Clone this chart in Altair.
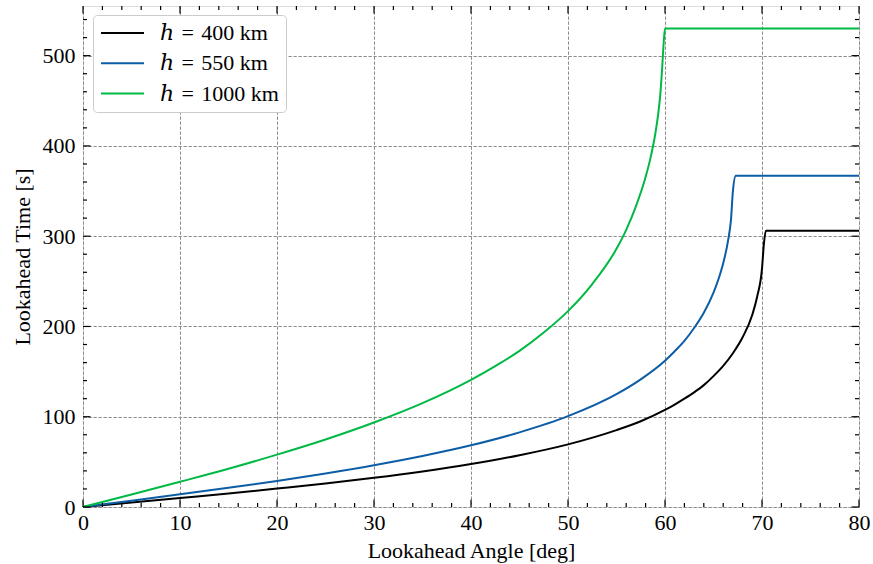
import altair as alt
import pandas as pd

# ---------------- data ----------------
series_labels = ["ℎ\u2004=\u2004400 km", "ℎ\u2004=\u2004550 km", "ℎ\u2004=\u20041000 km"]
series_colors = ["#000000", "#0C5DA5", "#00B945"]

angle_400 = [0, 5, 10, 15, 20, 25, 30, 35, 40, 45, 50, 55, 57.5, 60, 61, 62, 63, 64,
             65, 66, 67, 68, 69, 69.5, 70, 70.2, 70.4, 80]
time_400 = [0, 5, 10, 15, 20.4, 26, 32.3, 39.4, 47.6, 57.4, 69.4, 85.2, 95, 107.5, 113.5,
            120, 127, 135, 145, 156.3, 170.3, 188, 213, 233, 264, 292, 306, 306]

angle_550 = [0, 5, 10, 15, 20, 25, 30, 35, 40, 45, 50, 55, 57.5, 60, 61, 62, 63, 64, 65,
             65.5, 66, 66.5, 66.8, 67.0, 67.3, 80]
time_550 = [0, 7, 14, 21.3, 28.9, 37.2, 46.3, 56.5, 68.3, 82.7, 100.6, 125, 141.4, 162,
            172.5, 184, 198.3, 215.3, 237.6, 252, 270, 295, 318, 350, 367, 367]

angle_1000 = [0, 5, 10, 15, 20, 25, 30, 35, 40, 42.5, 45, 47.5, 50, 52.5, 55, 56, 57,
              58, 58.5, 59, 59.3, 59.5, 59.7, 59.85, 60.0, 80]
time_1000 = [0, 13.9, 28, 42.4, 58, 74.8, 93.6, 115, 140.8, 156, 173, 193.3, 217, 247,
             286, 307, 333, 365.5, 386.5, 413.5, 435.5, 455, 485, 512, 530, 530]

x_major = [0, 10, 20, 30, 40, 50, 60, 70, 80]
x_minor = [v for v in range(0, 81, 2) if v % 10 != 0]
y_major = [0, 100, 200, 300, 400, 500]
y_minor = [v for v in range(0, 555, 20) if v % 100 != 0]

x_domain = [0, 80]
y_domain = [0, 555]

# ---------------- layout constants ----------------
W, H = 776, 501
FONT = "Liberation Serif"
FS = 22
MAJ, MIN = 7.5, 4
GRID_COLOR = "#8c8c8c"
GRID_DASH = [3.3, 1.7]

frames = []
for lab, xs, ys in [(series_labels[0], angle_400, time_400),
                    (series_labels[1], angle_550, time_550),
                    (series_labels[2], angle_1000, time_1000)]:
    frames.append(pd.DataFrame({"angle": xs, "time": ys, "series": lab}))
df = pd.concat(frames, ignore_index=True)

xscale = alt.Scale(domain=x_domain, nice=False, zero=False)
yscale = alt.Scale(domain=y_domain, nice=False, zero=False)

x_axis = alt.Axis(title="Lookahead Angle [deg]", values=x_major, grid=True,
                  ticks=False, tickSize=0, domain=False, labelPadding=5.5,
                  labelFont=FONT, labelFontSize=FS, labelColor="black",
                  titleFont=FONT, titleFontSize=FS, titleFontWeight="normal",
                  titleColor="black", titleBaseline="alphabetic", titleY=50,
                  gridColor=GRID_COLOR, gridDash=GRID_DASH, gridWidth=1,
                  labelFlush=False)
y_axis = alt.Axis(title="Lookahead Time [s]", values=y_major, grid=True,
                  ticks=False, tickSize=0, domain=False, labelPadding=8,
                  labelFont=FONT, labelFontSize=FS, labelColor="black",
                  titleFont=FONT, titleFontSize=FS, titleFontWeight="normal",
                  titleColor="black", titleBaseline="alphabetic", titleAngle=270,
                  titleX=-54,
                  gridColor=GRID_COLOR, gridDash=GRID_DASH, gridWidth=1,
                  labelFlush=False)

lines = alt.Chart(df).mark_line(strokeWidth=2, interpolate="monotone").encode(
    x=alt.X("angle:Q", scale=xscale, axis=x_axis),
    y=alt.Y("time:Q", scale=yscale, axis=y_axis),
    color=alt.Color("series:N",
                    scale=alt.Scale(domain=series_labels, range=series_colors),
                    sort=series_labels,
                    legend=alt.Legend(title=None, orient="none", legendX=10, legendY=9,
                                      symbolType="M-2.15,0L2.15,0", symbolSize=400,
                                      symbolOffset=11.5,
                                      symbolStrokeWidth=2, labelFont=FONT + ", DejaVu Serif",
                                      labelFontSize=FS, labelColor="black",
                                      labelOffset=26.5, padding=7, rowPadding=8.3,
                                      strokeColor="#cccccc", fillColor="white",
                                      cornerRadius=4, labelLimit=0)),
)

def vticks(values, length, at_top):
    d = pd.DataFrame({"angle": values})
    if at_top:
        yy, yy2 = alt.value(0), alt.value(length)
    else:
        yy, yy2 = alt.value(H), alt.value(H - length)
    return alt.Chart(d).mark_rule(color="black", strokeWidth=1.2).encode(
        x=alt.X("angle:Q", scale=xscale, axis=x_axis), y=yy, y2=yy2)

def hticks(values, length, at_right):
    d = pd.DataFrame({"time": values})
    if at_right:
        xx, xx2 = alt.value(W), alt.value(W - length)
    else:
        xx, xx2 = alt.value(0), alt.value(length)
    return alt.Chart(d).mark_rule(color="black", strokeWidth=1.2).encode(
        y=alt.Y("time:Q", scale=yscale, axis=y_axis), x=xx, x2=xx2)

ticks = [
    vticks(x_major, MAJ, False), vticks(x_major, MAJ, True),
    vticks(x_minor, MIN, False), vticks(x_minor, MIN, True),
    hticks(y_major, MAJ, False), hticks(y_major, MAJ, True),
    hticks(y_minor, MIN, False), hticks(y_minor, MIN, True),
]

chart = alt.layer(lines, *ticks).properties(
    width=W, height=H,
    autosize=alt.AutoSizeParams(type="none"),
    padding={"left": 83, "top": 6, "right": 14, "bottom": 57},
).configure_view(stroke="black", strokeWidth=1.5).configure(background="white")

chart.save("out.html", embed_options={"renderer": "svg", "actions": False})
